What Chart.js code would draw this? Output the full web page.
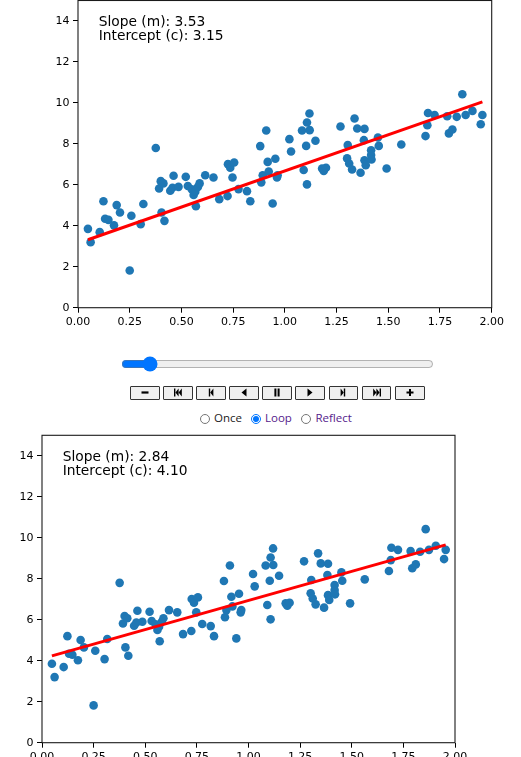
<!DOCTYPE html>
<html>
<head>
<meta charset="utf-8">
<script src="https://cdn.jsdelivr.net/npm/chart.js@4.4.1/dist/chart.umd.min.js"></script>
<style>
  html, body { margin: 0; padding: 0; background: #fff; overflow: hidden; }
  body { width: 521px; height: 757px; position: relative; }
  canvas { position: absolute; left: 0; }
  #chart-top { top: -30px; }
  #chart-bottom { top: 405px; }
  #slider { position: absolute; left: 121px; top: 356px; width: 313px; height: 16px; margin: 0; }
  #buttons { position: absolute; left: 130px; top: 386px; display: flex; gap: 3.3px; }
  #buttons button {
    width: 29.8px; height: 13.6px; padding: 0; margin: 0;
    border: 1px solid #333; border-radius: 1px; background: #efefef;
    display: flex; align-items: center; justify-content: center;
  }
  .radio { position: absolute; top: 414px; width: 10px; height: 10px; margin: 0; }
  .lbl { position: absolute; top: 410px; font: 11.5px "Open Sans", sans-serif; line-height: 16px; }
</style>
</head>
<body>
<canvas id="chart-top" width="521" height="368"></canvas>

<input id="slider" type="range" min="0" max="100" value="7">
<div id="buttons"></div>
<input class="radio" type="radio" name="mode" style="left:200px">
<span class="lbl" style="left:214px;color:#222">Once</span>
<input class="radio" type="radio" name="mode" style="left:251px" checked>
<span class="lbl" style="left:265px;color:#551a8b">Loop</span>
<input class="radio" type="radio" name="mode" style="left:300.5px">
<span class="lbl" style="left:315.5px;color:#551a8b">Reflect</span>

<canvas id="chart-bottom" width="521" height="380"></canvas>

<script>
// scatter data
const xValues = [
  0.123, 0.187, 0.316, 0.376, 0.392, 0.400, 0.413, 0.446, 0.457, 0.462,
  0.486, 0.521, 0.531, 0.550, 0.559, 0.567, 0.580, 0.588, 0.570, 0.615,
  0.655, 0.683, 0.723, 0.725, 0.736, 0.755, 0.747, 0.776, 0.817, 0.833,
  0.881, 0.886, 0.893, 0.910, 0.917, 0.922, 0.941, 0.954, 0.962, 0.965,
  1.022, 1.030, 1.083, 1.107, 1.119, 1.120, 1.103, 1.091, 1.107, 1.148,
  1.180, 1.188, 1.199, 1.269, 1.304, 1.301, 1.311, 1.325, 1.337, 1.350,
  1.366, 1.385, 1.382, 1.385, 1.391, 1.417, 1.417, 1.419, 1.450, 1.454,
  1.492, 1.563, 1.680, 1.692, 1.689, 1.724, 1.793, 1.810, 1.785, 1.831,
  1.874, 1.907, 1.947, 1.955, 1.858, 0.048, 0.061, 0.105, 0.131, 0.147,
  0.174, 0.203, 0.250, 0.258, 0.303, 0.404, 0.418
];
const yValues = [
  5.20, 5.01, 5.06, 7.80, 5.82, 6.18, 6.07, 5.71, 5.86, 6.44,
  5.90, 6.39, 5.94, 5.78, 5.50, 5.66, 5.90, 6.07, 4.95, 6.47,
  6.36, 5.30, 5.45, 7.01, 6.83, 7.09, 6.36, 5.79, 5.69, 5.20,
  7.89, 6.12, 6.47, 8.65, 7.12, 6.65, 5.09, 7.27, 6.36, 6.47,
  8.23, 7.63, 8.65, 9.04, 9.48, 8.67, 7.90, 6.72, 6.02, 8.15,
  6.80, 6.68, 6.83, 8.85, 7.94, 7.29, 7.04, 6.75, 9.24, 8.75,
  6.59, 8.73, 8.18, 7.20, 6.96, 7.69, 7.45, 7.24, 8.31, 7.90,
  6.80, 7.97, 8.38, 9.51, 8.91, 9.41, 8.51, 8.70, 9.35, 9.32,
  9.41, 9.61, 8.96, 9.41, 10.42, 3.85, 3.20, 3.69, 4.34, 4.29,
  4.02, 4.65, 1.82, 4.49, 4.08, 4.65, 4.24
];
const xTicks = [0, 0.25, 0.5, 0.75, 1, 1.25, 1.5, 1.75, 2];
const yTicks = [0, 2, 4, 6, 8, 10, 12, 14];

const fits = [
  { canvas: "chart-top", slope: 3.53, intercept: 3.15 },
  { canvas: "chart-bottom", slope: 2.84, intercept: 4.10 },
];

const points = xValues.map((x, i) => ({ x: x, y: yValues[i] }));
const xMin = Math.min(...xValues);
const xMax = Math.max(...xValues);

const framePlugin = {
  id: "frame",
  afterDraw(chart, args, opts) {
    const a = chart.chartArea;
    const ctx = chart.ctx;
    ctx.save();
    ctx.strokeStyle = "#1a1a1a";
    ctx.lineWidth = 1.1;
    ctx.strokeRect(a.left, a.top, a.right - a.left, a.bottom - a.top);
    ctx.fillStyle = "#000";
    ctx.font = "13.8px 'DejaVu Sans'";
    ctx.textBaseline = "alphabetic";
    const tx = a.left + 0.05 * (a.right - a.left);
    ctx.fillText("Slope (m): " + opts.slope.toFixed(2), tx, a.top + 25.5);
    ctx.fillText("Intercept (c): " + opts.intercept.toFixed(2), tx, a.top + 39.8);
    ctx.restore();
  },
};

function makeChart(fit, yWidth, pad) {
  const line = [
    { x: xMin, y: fit.intercept + fit.slope * xMin },
    { x: xMax, y: fit.intercept + fit.slope * xMax },
  ];
  const tickFont = { family: "DejaVu Sans", size: 11 };
  return new Chart(document.getElementById(fit.canvas), {
    type: "scatter",
    data: {
      datasets: [
        {
          data: line, showLine: true, borderColor: "#ff0000", borderWidth: 3,
          pointRadius: 0, order: 0, borderCapStyle: "butt",
        },
        {
          data: points, backgroundColor: "#1f77b4", borderWidth: 0,
          pointRadius: 4.3, pointHoverRadius: 4.3, order: 1,
        },
      ],
    },
    options: {
      responsive: false,
      animation: false,
      events: [],
      layout: { padding: pad },
      plugins: {
        legend: { display: false },
        tooltip: { enabled: false },
        frame: { slope: fit.slope, intercept: fit.intercept },
      },
      scales: {
        x: {
          type: "linear", min: 0, max: 2,
          afterBuildTicks: (s) => { s.ticks = xTicks.map((v) => ({ value: v })); },
          afterFit: (s) => { s.height = 30; },
          ticks: { font: tickFont, color: "#000", padding: 2.5, maxRotation: 0,
                   callback: (v) => v.toFixed(2) },
          grid: { drawOnChartArea: false, tickLength: 5, color: "#000" },
          border: { display: false },
        },
        y: {
          type: "linear", min: 0, max: 15,
          afterBuildTicks: (s) => { s.ticks = yTicks.map((v) => ({ value: v })); },
          afterFit: (s) => { s.width = yWidth; },
          ticks: { font: tickFont, color: "#000", padding: 3.5,
                   callback: (v) => String(v) },
          grid: { drawOnChartArea: false, tickLength: 5, color: "#000" },
          border: { display: false },
        },
      },
    },
    plugins: [framePlugin],
  });
}

makeChart(fits[0], 78, { top: 30.5, left: 0, right: 29.3, bottom: 0.3 });
makeChart(fits[1], 42, { top: 30.3, left: 0, right: 66, bottom: 12.3 });

// animation control buttons
const icons = [
  '<rect x="1.5" y="3.4" width="7" height="2.2"/>',
  '<rect x="1" y="0.5" width="1.4" height="8"/><polygon points="2.4,4.5 5.6,0.5 5.6,8.5"/><polygon points="5.6,4.5 8.8,0.5 8.8,8.5"/>',
  '<rect x="2.8" y="0.5" width="1.4" height="8"/><polygon points="4.2,4.5 7.4,0.5 7.4,8.5"/>',
  '<polygon points="2.5,4.5 7.5,0.5 7.5,8.5"/>',
  '<rect x="2.4" y="0.5" width="2" height="8"/><rect x="5.6" y="0.5" width="2" height="8"/>',
  '<polygon points="2.5,0.5 7.5,4.5 2.5,8.5"/>',
  '<polygon points="2.6,0.5 5.8,4.5 2.6,8.5"/><rect x="5.8" y="0.5" width="1.4" height="8"/>',
  '<polygon points="1.2,0.5 4.4,4.5 1.2,8.5"/><polygon points="4.4,0.5 7.6,4.5 4.4,8.5"/><rect x="7.6" y="0.5" width="1.4" height="8"/>',
  '<rect x="1.5" y="3.5" width="7" height="2"/><rect x="4" y="1" width="2" height="7"/>',
];
const box = document.getElementById("buttons");
icons.forEach((svg) => {
  box.innerHTML += '<button><svg width="10" height="9" viewBox="0 0 10 9" fill="#000">' + svg + "</svg></button>";
});
</script>
</body>
</html>
